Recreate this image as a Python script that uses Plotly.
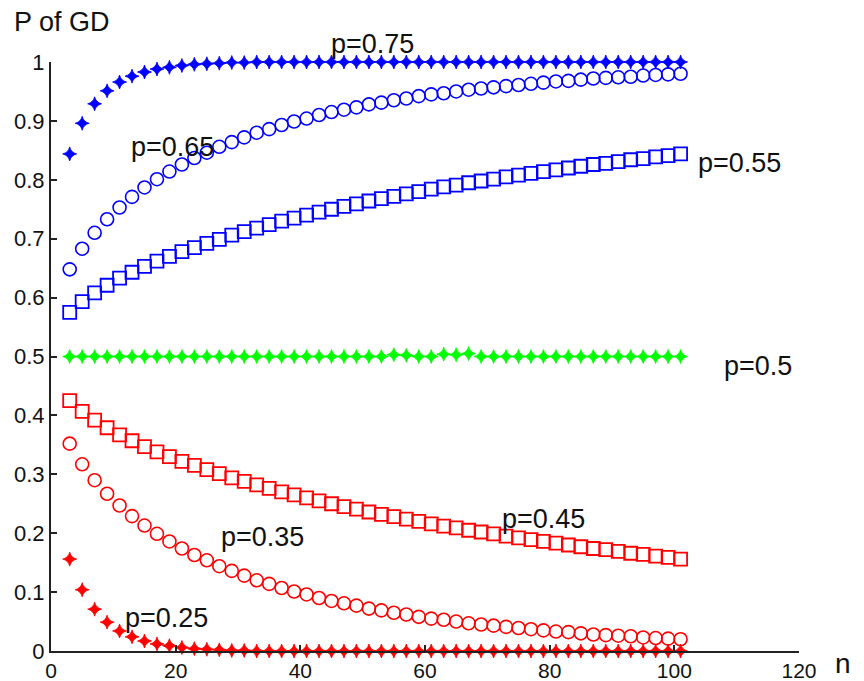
import plotly.graph_objects as go

n_vals = [3, 5, 7, 9, 11, 13, 15, 17, 19, 21, 23, 25, 27, 29, 31, 33, 35, 37, 39, 41,
          43, 45, 47, 49, 51, 53, 55, 57, 59, 61, 63, 65, 67, 69, 71, 73, 75, 77, 79, 81,
          83, 85, 87, 89, 91, 93, 95, 97, 99, 101]

p75 = [0.844, 0.896, 0.929, 0.951, 0.966, 0.976, 0.983, 0.988, 0.991, 0.994,
       0.996, 0.997, 0.998, 0.999, 0.999, 1.0, 1.0, 1.0, 1.0, 1.0,
       1.0, 1.0, 1.0, 1.0, 1.0, 1.0, 1.0, 1.0, 1.0, 1.0,
       1.0, 1.0, 1.0, 1.0, 1.0, 1.0, 1.0, 1.0, 1.0, 1.0,
       1.0, 1.0, 1.0, 1.0, 1.0, 1.0, 1.0, 1.0, 1.0, 1.0]

p65 = [0.648, 0.683, 0.710, 0.733, 0.753, 0.771, 0.787, 0.801, 0.814, 0.826,
       0.837, 0.846, 0.856, 0.864, 0.872, 0.880, 0.886, 0.893, 0.899, 0.904,
       0.910, 0.915, 0.919, 0.923, 0.928, 0.931, 0.935, 0.938, 0.942, 0.945,
       0.947, 0.950, 0.953, 0.955, 0.957, 0.959, 0.961, 0.963, 0.965, 0.967,
       0.968, 0.970, 0.972, 0.973, 0.974, 0.975, 0.977, 0.978, 0.979, 0.980]

p55 = [0.575, 0.593, 0.608, 0.621, 0.633, 0.643, 0.653, 0.662, 0.670, 0.678,
       0.685, 0.692, 0.699, 0.706, 0.712, 0.718, 0.724, 0.730, 0.735, 0.740,
       0.745, 0.750, 0.755, 0.759, 0.764, 0.768, 0.772, 0.776, 0.780, 0.784,
       0.788, 0.791, 0.795, 0.798, 0.801, 0.805, 0.808, 0.811, 0.814, 0.817,
       0.820, 0.823, 0.826, 0.828, 0.831, 0.834, 0.836, 0.839, 0.841, 0.844]

p50 = [0.5, 0.5, 0.5, 0.5, 0.5, 0.5, 0.5, 0.5, 0.5, 0.5,
       0.5, 0.5, 0.5, 0.5, 0.5, 0.5, 0.5, 0.5, 0.5, 0.5,
       0.5, 0.5, 0.5, 0.5, 0.5, 0.5, 0.503, 0.502, 0.5, 0.5,
       0.504, 0.503, 0.505, 0.5, 0.5, 0.5, 0.5, 0.5, 0.5, 0.5,
       0.5, 0.5, 0.5, 0.5, 0.5, 0.5, 0.5, 0.5, 0.5, 0.5]

p45 = [0.425, 0.407, 0.392, 0.379, 0.367, 0.357, 0.347, 0.338, 0.330, 0.322,
       0.315, 0.308, 0.301, 0.294, 0.288, 0.282, 0.276, 0.270, 0.265, 0.260,
       0.255, 0.250, 0.245, 0.241, 0.236, 0.232, 0.228, 0.224, 0.220, 0.216,
       0.212, 0.209, 0.205, 0.202, 0.199, 0.195, 0.192, 0.189, 0.186, 0.183,
       0.180, 0.177, 0.174, 0.172, 0.169, 0.166, 0.164, 0.161, 0.159, 0.156]

p35 = [0.352, 0.317, 0.290, 0.267, 0.247, 0.229, 0.213, 0.199, 0.186, 0.174,
       0.163, 0.154, 0.144, 0.136, 0.128, 0.120, 0.114, 0.107, 0.101, 0.096,
       0.090, 0.085, 0.081, 0.077, 0.072, 0.069, 0.065, 0.062, 0.058, 0.055,
       0.053, 0.050, 0.047, 0.045, 0.043, 0.041, 0.039, 0.037, 0.035, 0.033,
       0.032, 0.030, 0.028, 0.027, 0.026, 0.025, 0.023, 0.022, 0.021, 0.020]

p25 = [0.156, 0.104, 0.071, 0.049, 0.034, 0.024, 0.017, 0.012, 0.009, 0.006,
       0.004, 0.003, 0.002, 0.001, 0.001, 0.0, 0.0, 0.0, 0.0, 0.0,
       0.0, 0.0, 0.0, 0.0, 0.0, 0.0, 0.0, 0.0, 0.0, 0.0,
       0.0, 0.0, 0.0, 0.0, 0.0, 0.0, 0.0, 0.0, 0.0, 0.0,
       0.0, 0.0, 0.0, 0.0, 0.0, 0.0, 0.0, 0.0, 0.0, 0.0]

labels = ["p=0.75", "p=0.65", "p=0.55", "p=0.5", "p=0.45", "p=0.35", "p=0.25"]
label_x = [51.5, 19.5, 110.5, 113.5, 79.0, 34.0, 18.5]
label_y = [1.031, 0.856, 0.829, 0.484, 0.224, 0.194, 0.056]

X_MAX = 120
BLUE = "#0000FF"
RED = "#FF0000"
GREEN = "#00FF00"
TXT = "#111111"
FONT = "Liberation Sans, Arial, sans-serif"

series = [
    (p75, BLUE, "star-diamond"),
    (p65, BLUE, "circle-open"),
    (p55, BLUE, "square-open"),
    (p50, GREEN, "star-diamond"),
    (p45, RED, "square-open"),
    (p35, RED, "circle-open"),
    (p25, RED, "star-diamond"),
]

fig = go.Figure()
for vals, col, sym in series:
    if sym == "square-open":
        mk = dict(symbol=sym, size=13, color=col, line=dict(color=col, width=1.8))
    elif sym == "circle-open":
        mk = dict(symbol=sym, size=13, color=col, line=dict(color=col, width=1.6))
    else:
        mk = dict(symbol=sym, size=10, color=col, line=dict(color=col, width=0.8))
    fig.add_trace(go.Scatter(x=n_vals, y=vals, mode="markers", marker=mk,
                             cliponaxis=False, showlegend=False, hoverinfo="skip"))

# labels placed in paper coordinates (axis ranges are [0, X_MAX] and [0, 1])
for t, x, y in zip(labels, label_x, label_y):
    fig.add_annotation(xref="paper", yref="paper", x=x / X_MAX, y=y, text=t,
                       showarrow=False,
                       font=dict(family=FONT, size=27, color=TXT),
                       xanchor="center", yanchor="middle")

fig.add_annotation(xref="paper", yref="paper", x=0.0, y=1.0, xshift=-39, yshift=40,
                   text="P of GD", showarrow=False, xanchor="left", yanchor="middle",
                   font=dict(family=FONT, size=27, color=TXT))
fig.add_annotation(xref="paper", yref="paper", x=1.0, y=0.0, xshift=44, yshift=-12,
                   text="n", showarrow=False, xanchor="center", yanchor="middle",
                   font=dict(family=FONT, size=28, color=TXT))

fig.update_layout(
    width=864, height=681,
    margin=dict(l=51, r=65, t=62, b=30, autoexpand=False),
    paper_bgcolor="white", plot_bgcolor="white",
    font=dict(family=FONT, size=22, color=TXT),
    xaxis=dict(range=[0, X_MAX], dtick=20, showgrid=False, zeroline=False,
               showline=True, linecolor="#222222", linewidth=2, automargin=False,
               ticks="inside", ticklen=6, tickwidth=1.5, tickcolor="#222222",
               ticklabelstandoff=0,
               tickfont=dict(family=FONT, size=21, color=TXT)),
    yaxis=dict(range=[0, 1], dtick=0.1, showgrid=False, zeroline=False,
               showline=True, linecolor="#222222", linewidth=2, automargin=False,
               ticks="inside", ticklen=6, tickwidth=1.5, tickcolor="#222222",
               tickfont=dict(family=FONT, size=22, color=TXT)),
)

fig.write_html("out.html", config={"displayModeBar": False},
               post_script="document.body.style.margin='0';document.body.style.overflow='hidden';")
